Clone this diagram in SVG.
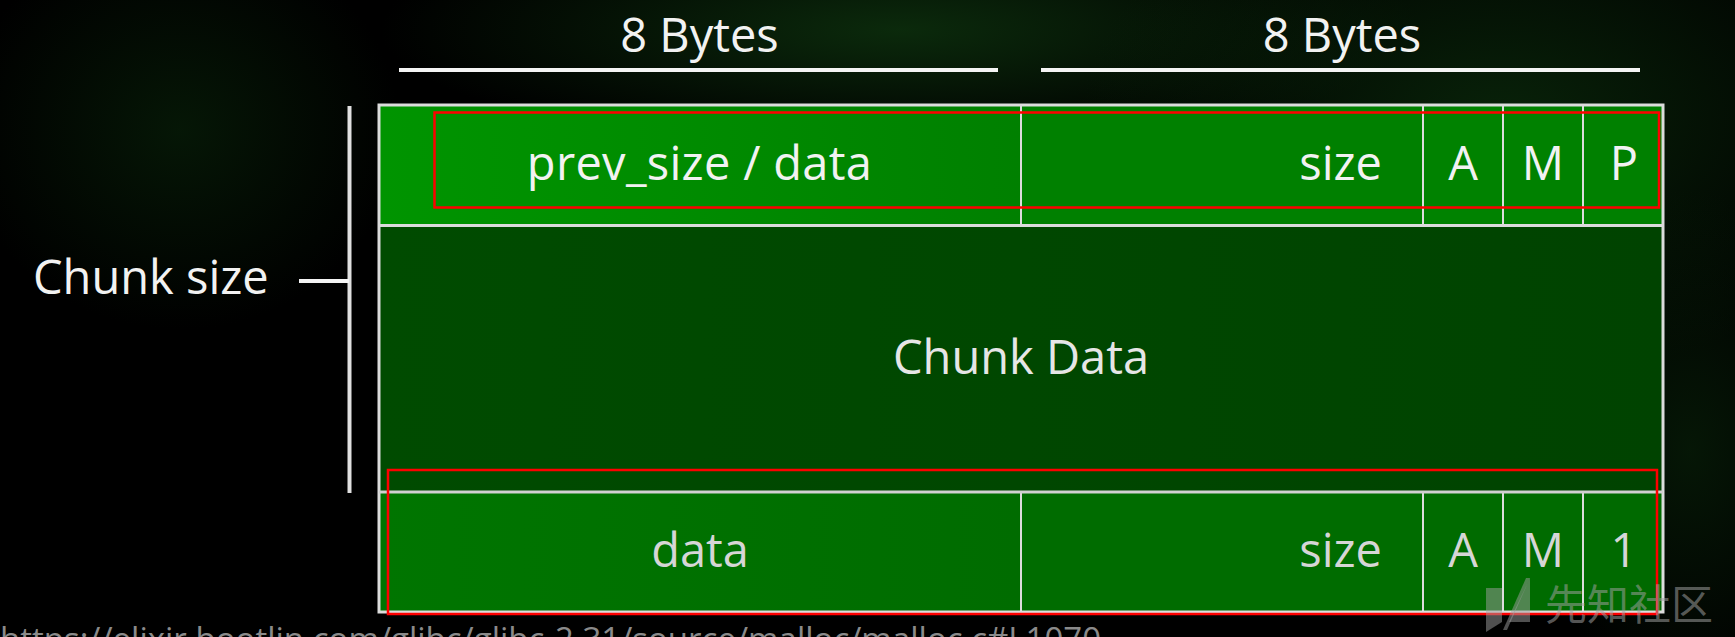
<svg xmlns="http://www.w3.org/2000/svg" width="1735" height="637" viewBox="0 0 1735 637">
  <defs>
    <radialGradient id="glowA" cx="0.5" cy="0.5" r="0.5">
      <stop offset="0" stop-color="#0f3a10" stop-opacity="0.9"/>
      <stop offset="1" stop-color="#0f3a10" stop-opacity="0"/>
    </radialGradient>
    <radialGradient id="glowB" cx="0.5" cy="0.5" r="0.5">
      <stop offset="0" stop-color="#0a2a0b" stop-opacity="0.9"/>
      <stop offset="1" stop-color="#0a2a0b" stop-opacity="0"/>
    </radialGradient>
    <linearGradient id="rowTop" x1="0" y1="0" x2="1" y2="0">
      <stop offset="0" stop-color="#009400"/>
      <stop offset="0.45" stop-color="#008c00"/>
      <stop offset="1" stop-color="#008000"/>
    </linearGradient>
    <linearGradient id="rowMid" x1="0" y1="0" x2="1" y2="0">
      <stop offset="0" stop-color="#004b00"/>
      <stop offset="1" stop-color="#004300"/>
    </linearGradient>
    <linearGradient id="rowBot" x1="0" y1="0" x2="1" y2="0">
      <stop offset="0" stop-color="#007500"/>
      <stop offset="1" stop-color="#006c00"/>
    </linearGradient>
  </defs>
  <style>
    .lbl { font-family: "Open Sans", "Noto Sans", "DejaVu Sans", sans-serif; font-size: 47px; fill: #f2f2f2; }
    .mid { text-anchor: middle; }
    .end { text-anchor: end; }
    .dim { fill: #d6d6d6; }
    .cell { stroke: #dcdcdc; stroke-width: 2; }
    .rule { stroke: #f4f4f4; stroke-width: 4; fill: none; }
    .hl { fill: none; stroke: #ff0000; stroke-width: 2.5; }
    .wm { font-family: "Noto Sans CJK SC", "Noto Sans", sans-serif; font-size: 42px; fill: #a0a0a0; fill-opacity: 0.55; }
    .src { font-family: "Open Sans", "Noto Sans", sans-serif; font-size: 33px; fill: #8a8a8a; }
  </style>

  <!-- background -->
  <rect x="0" y="0" width="1735" height="637" fill="#000"/>
  <ellipse cx="180" cy="130" rx="220" ry="200" fill="url(#glowB)" opacity="0.6"/>
  <ellipse cx="900" cy="30" rx="520" ry="120" fill="url(#glowA)" opacity="0.8"/>
  <ellipse cx="1500" cy="120" rx="420" ry="260" fill="url(#glowB)" opacity="0.9"/>
  <ellipse cx="1690" cy="450" rx="160" ry="260" fill="url(#glowB)" opacity="0.6"/>

  <!-- header labels -->
  <g id="bytes-left">
    <text class="lbl mid" x="699.5" y="52">8 Bytes</text>
  </g>
  <g id="bytes-right">
    <text class="lbl mid" x="1342" y="52">8 Bytes</text>
  </g>
  <g id="chunk-size-label">
    <text class="lbl" x="33" y="294">Chunk size</text>
  </g>

  <!-- chunk rows -->
  <g id="row-header">
    <rect class="cell" x="379" y="105" width="642" height="120.5" fill="url(#rowTop)"/>
    <rect class="cell" x="1021" y="105" width="402" height="120.5" fill="#008000"/>
    <rect class="cell" x="1423" y="105" width="80" height="120.5" fill="#008200"/>
    <rect class="cell" x="1503" y="105" width="80" height="120.5" fill="#008100"/>
    <rect class="cell" x="1583" y="105" width="80" height="120.5" fill="#008000"/>
    <text class="lbl mid" x="699.5" y="180" style="letter-spacing:0.3px">prev_size / data</text>
    <text class="lbl end" x="1382" y="180">size</text>
    <text class="lbl mid" x="1463" y="180">A</text>
    <text class="lbl mid" x="1543" y="180">M</text>
    <text class="lbl mid" x="1624" y="180">P</text>
  </g>
  <g id="row-data">
    <rect class="cell" x="379" y="225.5" width="1284" height="266.5" fill="url(#rowMid)"/>
    <text class="lbl mid" x="1021" y="374" style="fill:#e6e6e6">Chunk Data</text>
  </g>
  <g id="row-footer">
    <rect class="cell" x="379" y="492" width="642" height="120" fill="url(#rowBot)"/>
    <rect class="cell" x="1021" y="492" width="402" height="120" fill="#006c00"/>
    <rect class="cell" x="1423" y="492" width="80" height="120" fill="#006b00"/>
    <rect class="cell" x="1503" y="492" width="80" height="120" fill="#006b00"/>
    <rect class="cell" x="1583" y="492" width="80" height="120" fill="#006a00"/>
    <text class="lbl mid dim" x="700" y="567">data</text>
    <text class="lbl end dim" x="1382" y="567">size</text>
    <text class="lbl mid dim" x="1463" y="567">A</text>
    <text class="lbl mid dim" x="1543" y="567">M</text>
    <text class="lbl mid dim" x="1624" y="567">1</text>
  </g>
  <rect x="379" y="105" width="1284" height="507" fill="none" stroke="#dcdcdc" stroke-width="3"/>
  <line x1="379" y1="225.5" x2="1663" y2="225.5" stroke="#dcdcdc" stroke-width="3"/>
  <line x1="379" y1="492" x2="1663" y2="492" stroke="#d0d0d0" stroke-width="3"/>

  <!-- rules / bracket -->
  <g id="connectors">
    <line class="rule" x1="399" y1="70" x2="998" y2="70"/>
    <line class="rule" x1="1041" y1="70" x2="1640" y2="70"/>
    <line class="rule" x1="349.5" y1="106" x2="349.5" y2="493" style="stroke:#e0e0e0"/>
    <line class="rule" x1="299" y1="281" x2="349" y2="281"/>
  </g>

  <!-- highlight boxes -->
  <g id="highlights">
    <rect class="hl" x="434.5" y="112.5" width="1224.5" height="95"/>
    <rect class="hl" x="388" y="470" width="1269" height="144"/>
  </g>

  <!-- source text (cut off at the bottom edge, as in the picture) -->
  <g id="source">
    <text class="src" x="0" y="651">https://elixir.bootlin.com/glibc/glibc-2.31/source/malloc/malloc.c#L1070</text>
  </g>

  <!-- watermark -->
  <g id="watermark" fill="#a0a0a0" fill-opacity="0.5">
    <polygon points="1486,588 1502,588 1502,622 1486,632"/>
    <polygon points="1530,578 1530,622 1509,622"/>
    <polygon points="1530,578 1507,630 1503,630 1526,578"/>
    <text class="wm" x="1545" y="620">先知社区</text>
  </g>
</svg>
